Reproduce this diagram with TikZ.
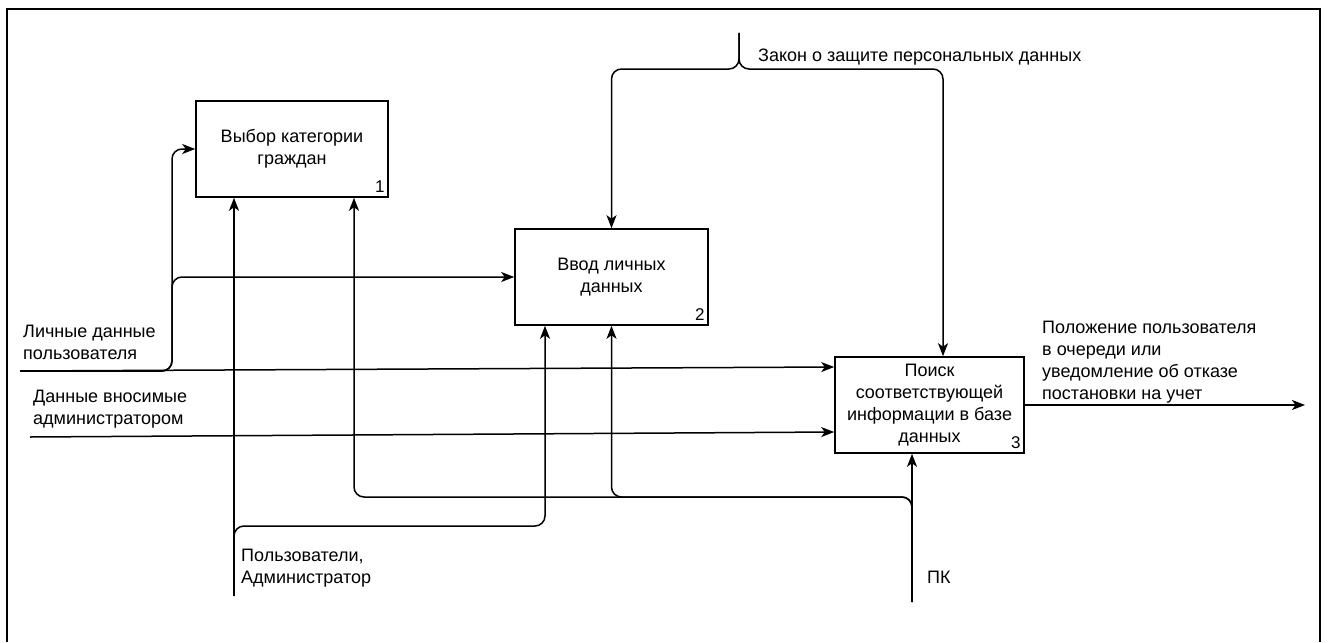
\documentclass[tikz,border=0pt]{standalone}
\usepackage{fontspec}
\setmainfont{Liberation Sans}
\usetikzlibrary{arrows.meta}

\begin{document}
\begin{tikzpicture}[x=1pt, y=-1pt,
  every node/.style={font=\fontsize{18}{22}\selectfont, text=black},
  block/.style={draw, line width=1.6pt, minimum height=96pt, align=center, inner sep=2pt},
  blocknum/.style={anchor=south east, inner sep=0pt, xshift=-4pt, yshift=5pt,
    font=\fontsize{17}{18}\selectfont},
  lbl/.style={anchor=west, align=left, inner sep=0pt},
  flow/.style={draw, line width=1.5pt, rounded corners=10pt,
    -{Stealth[length=13pt, width=10pt, inset=3.5pt]}},
  frameline/.style={draw, line width=2.2pt}
]
\useasboundingbox (0,0) rectangle (1329,642);

% outer frame (open at the bottom)
\draw[frameline] (7,642) -- (7,9) -- (1320,9) -- (1320,642);

% activity blocks
\node[block, minimum width=192pt] (b1) at (292,149) {Выбор категории\\граждан};
\node[block, minimum width=193pt] (b2) at (611.5,277) {Ввод личных\\данных};
\node[block, minimum width=189pt] (b3) at (929.5,405)
  {Поиск\\соответствующей\\информации в базе\\данных};
\node[blocknum] (n1) at (b1.south east) {1};
\node[blocknum] (n2) at (b2.south east) {2};
\node[blocknum] (n3) at (b3.south east) {3};

% helper coordinates for sources, bends and levels
\coordinate (law) at (739,33);
\coordinate (lawbar) at (0,69);
\coordinate (law3) at (943,0);
\coordinate (pd) at (20,371);
\coordinate (lvl1) at (0,367);
\coordinate (bx) at (172,0);
\coordinate (ad) at (30,437);
\coordinate (lvl2) at (0,432);
\coordinate (usr) at (234,596);
\coordinate (ub) at (545,526);
\coordinate (pk) at (912,602);
\coordinate (pkbar) at (0,497);
\coordinate (k1) at (354,497);
\coordinate (out) at (1305,405);

% control: law on personal data
\draw[flow] (law) -- (law |- lawbar) -| (b2.north);
\draw[flow] (law) -- (law |- lawbar) -| (b3.north -| law3);

% inputs
\draw[flow] (pd) -- (b3.west |- lvl1);
\draw[flow] (pd) -| (bx |- b1.west) -- (b1.west);
\draw[flow] (pd) -| (bx |- b2.west) -- (b2.west);
\draw[flow] (ad) -- (b3.west |- lvl2);

% mechanisms: users / administrator
\draw[flow] (usr) -- (b1.south -| usr);
\draw[flow] (usr) |- (ub) -- (b2.south -| ub);

% mechanisms: PC
\draw[flow] (pk) -- (b3.south -| pk);
\draw[flow] (pk) -- (pk |- pkbar) -| (b2.south);
\draw[flow] (pk) |- (k1) -- (b1.south -| k1);

% output
\draw[flow] (b3.east) -- (out);

% labels
\node[lbl] (tlaw) at (758,57) {Закон о защите персональных данных};
\node[lbl] (tpd) at (23,342.5) {Личные данные\\пользователя};
\node[lbl] (tad) at (33,409) {Данные вносимые\\администратором};
\node[lbl] (tusr) at (241,568) {Пользователи,\\Администратор};
\node[lbl] (tpk) at (927,577) {ПК};
\node[lbl] (tout) at (1042,362)
  {Положение пользователя\\в очереди или\\уведомление об отказе\\постановки на учет};
\end{tikzpicture}
\end{document}
